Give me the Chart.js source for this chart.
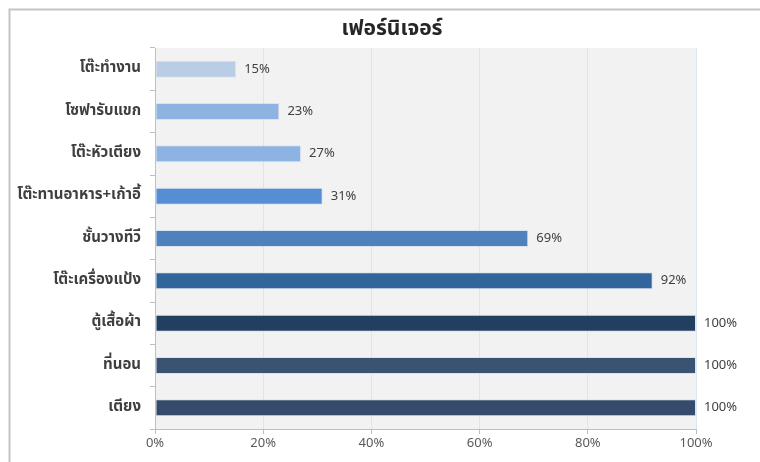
<!DOCTYPE html>
<html>
<head>
<meta charset="utf-8">
<script src="https://cdn.jsdelivr.net/npm/chart.js@4"></script>
<style>
  html, body { margin: 0; padding: 0; background: #ffffff; }
  #wrap { width: 760px; height: 462px; position: relative; }
</style>
</head>
<body>
<div id="wrap"><canvas id="chart" width="760" height="462"></canvas></div>
<script>
// Furniture ownership share, listed top to bottom
const categories = [
  'โต๊ะทำงาน',
  'โซฟารับแขก',
  'โต๊ะหัวเตียง',
  'โต๊ะทานอาหาร+เก้าอี้',
  'ชั้นวางทีวี',
  'โต๊ะเครื่องแป้ง',
  'ตู้เสื้อผ้า',
  'ที่นอน',
  'เตียง'
];
const shares = [15, 23, 27, 31, 69, 92, 100, 100, 100];
const barColors = [
  '#b9cde5', '#8db3e2', '#8db3e2', '#558ed5', '#4f81bd',
  '#31659c', '#223f62', '#3a5373', '#344b6b'
];
const xTicks = [0, 20, 40, 60, 80, 100];
const chartTitle = 'เฟอร์นิเจอร์';

const FONT = "'Noto Sans Thai', Tahoma, 'Noto Sans', sans-serif";

// light frame around the panel, plot background and the title
const framePlugin = {
  id: 'frame',
  beforeDraw(chart) {
    const ctx = chart.ctx;
    ctx.save();
    ctx.strokeStyle = '#c4c4c4';
    ctx.lineWidth = 2;
    ctx.beginPath();
    ctx.moveTo(9.5, 462);
    ctx.lineTo(9.5, 9.5);
    ctx.lineTo(760, 9.5);
    ctx.stroke();
    const a = chart.chartArea;
    ctx.fillStyle = '#f2f2f2';
    ctx.fillRect(a.left, a.top, a.right - a.left, a.bottom - a.top);
    ctx.font = "bold 21px " + FONT;
    ctx.fillStyle = '#262626';
    ctx.textAlign = 'center';
    ctx.textBaseline = 'middle';
    ctx.fillText(chartTitle, 392, 31);
    ctx.restore();
  }
};

// percentage labels at the end of each bar
const valueLabels = {
  id: 'valueLabels',
  afterDatasetsDraw(chart) {
    const ctx = chart.ctx;
    const meta = chart.getDatasetMeta(0);
    ctx.save();
    ctx.font = "13px " + FONT;
    ctx.fillStyle = '#404040';
    ctx.textBaseline = 'middle';
    ctx.textAlign = 'left';
    meta.data.forEach((bar, i) => {
      ctx.fillText(shares[i] + '%', bar.x + 8, bar.y + 1);
    });
    ctx.restore();
  }
};

new Chart(document.getElementById('chart'), {
  type: 'bar',
  data: {
    labels: categories,
    datasets: [{
      data: shares,
      backgroundColor: barColors,
      borderColor: 'rgba(200,215,235,0.55)',
      borderWidth: 1,
      borderSkipped: false,
      categoryPercentage: 1,
      barPercentage: 0.4
    }]
  },
  options: {
    indexAxis: 'y',
    responsive: false,
    animation: false,
    devicePixelRatio: 1,
    layout: { padding: { left: 10, right: 64, top: 48, bottom: 0 } },
    plugins: {
      legend: { display: false },
      tooltip: { enabled: false },
      title: { display: false }
    },
    scales: {
      x: {
        min: 0,
        max: 100,
        afterBuildTicks(scale) { scale.ticks = xTicks.map(v => ({ value: v })); },
        afterFit(scale) { scale.height = 33; },
        border: { color: '#bfbfbf', width: 1 },
        grid: { color: '#dbe5f1', tickColor: '#bfbfbf', tickLength: 5, drawTicks: true },
        ticks: {
          color: '#595959',
          font: { family: FONT, size: 13 },
          padding: 3,
          callback: v => v + '%'
        }
      },
      y: {
        afterFit(scale) { scale.width = 145; },
        border: { color: '#bfbfbf', width: 1 },
        grid: { offset: true, drawOnChartArea: false, tickColor: '#bfbfbf', tickLength: 5 },
        ticks: {
          color: '#3f3f3f',
          font: { family: FONT, size: 15, weight: 'bold' },
          padding: 9
        }
      }
    }
  },
  plugins: [framePlugin, valueLabels]
});
</script>
</body>
</html>
